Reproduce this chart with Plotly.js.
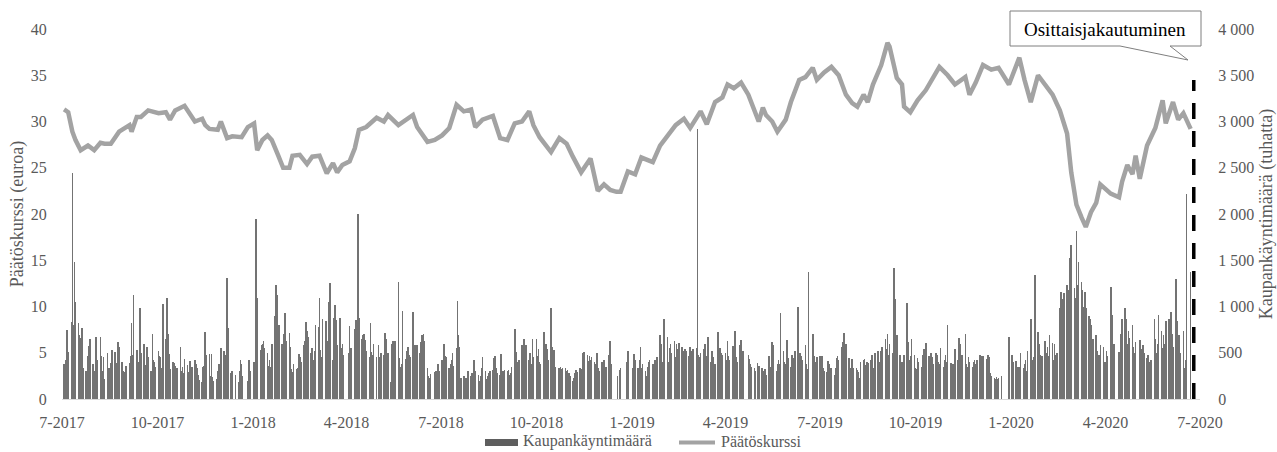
<!DOCTYPE html>
<html>
<head>
<meta charset="utf-8">
<script src="https://cdn.plot.ly/plotly-3.0.1.min.js"></script>
<style>html,body{margin:0;padding:0;background:#fff;}#chart{width:1277px;height:452px;}</style>
</head>
<body>
<div id="chart"></div>
<script>
// ---------- DATA ----------
const priceDates = [
"2017-07-03","2017-07-07","2017-07-11","2017-07-14","2017-07-19","2017-07-26","2017-08-01","2017-08-07","2017-08-11","2017-08-17",
"2017-08-25","2017-09-04","2017-09-06","2017-09-11","2017-09-15","2017-09-22","2017-10-02","2017-10-09","2017-10-13","2017-10-18",
"2017-10-27","2017-11-06","2017-11-13","2017-11-16","2017-11-20","2017-11-28","2017-12-01","2017-12-07","2017-12-12","2017-12-21",
"2017-12-27","2018-01-02","2018-01-05","2018-01-10","2018-01-15","2018-01-19","2018-01-25","2018-01-30","2018-02-05","2018-02-08",
"2018-02-15","2018-02-22","2018-02-27","2018-03-06","2018-03-13","2018-03-19","2018-03-23","2018-03-28","2018-04-04","2018-04-09",
"2018-04-13","2018-04-20","2018-04-30","2018-05-07","2018-05-11","2018-05-21","2018-06-04","2018-06-08","2018-06-18","2018-06-25",
"2018-07-02","2018-07-09","2018-07-16","2018-07-23","2018-07-30","2018-08-03","2018-08-10","2018-08-20","2018-08-27","2018-09-03",
"2018-09-10","2018-09-17","2018-09-24","2018-09-28","2018-10-04","2018-10-15","2018-10-23","2018-10-30","2018-11-05","2018-11-13",
"2018-11-22","2018-11-29","2018-12-05","2018-12-11","2018-12-17","2018-12-21","2018-12-28","2019-01-04","2019-01-10","2019-01-21",
"2019-01-28","2019-02-04","2019-02-12","2019-02-20","2019-02-26","2019-03-08","2019-03-14","2019-03-22","2019-03-29","2019-04-03",
"2019-04-09","2019-04-16","2019-04-23","2019-05-03","2019-05-07","2019-05-10","2019-05-16","2019-05-21","2019-05-29","2019-06-03",
"2019-06-11","2019-06-17","2019-06-24","2019-06-28","2019-07-05","2019-07-12","2019-07-19","2019-07-26","2019-08-01","2019-08-06",
"2019-08-12","2019-08-16","2019-08-21","2019-08-29","2019-09-04","2019-09-06","2019-09-13","2019-09-18","2019-09-20","2019-09-26",
"2019-10-03","2019-10-11","2019-10-18","2019-10-24","2019-11-01","2019-11-08","2019-11-18","2019-11-22","2019-11-28","2019-12-05",
"2019-12-13","2019-12-20","2019-12-30","2020-01-03","2020-01-09","2020-01-14","2020-01-20","2020-01-27","2020-02-03","2020-02-10",
"2020-02-17","2020-02-21","2020-02-24","2020-02-28","2020-03-04","2020-03-09","2020-03-13","2020-03-18","2020-03-23","2020-03-27",
"2020-04-06","2020-04-14","2020-04-17","2020-04-22","2020-04-27","2020-04-30","2020-05-04","2020-05-11","2020-05-19","2020-05-26",
"2020-05-29","2020-06-05","2020-06-10","2020-06-15","2020-06-22"
];
const priceValues = [
31.3,31.0,28.9,28.0,26.9,27.4,26.9,27.7,27.6,27.6,
28.9,29.6,28.9,30.5,30.5,31.2,30.9,31.0,30.2,31.2,
31.7,30.0,30.3,29.6,29.2,29.1,30.0,28.2,28.4,28.3,
29.4,29.8,26.9,28.0,28.5,28.0,26.4,25.0,25.0,26.3,
26.4,25.4,26.2,26.3,24.4,25.5,24.5,25.3,25.7,27.1,
29.1,29.4,30.4,30.0,30.7,29.6,30.7,29.4,27.8,28.0,
28.5,29.3,31.8,31.1,31.3,29.4,30.2,30.6,28.2,28.0,
29.8,30.0,31.1,29.6,28.3,26.7,28.2,27.6,26.2,24.5,
26.0,22.5,23.2,22.6,22.4,22.4,24.6,24.3,26.1,25.6,
27.4,28.4,29.6,30.3,29.3,31.1,29.7,32.1,32.6,34.0,
33.6,34.2,32.9,30.0,31.5,30.7,30.0,28.9,30.2,32.1,
34.5,34.8,35.8,34.5,35.3,35.9,35.0,32.9,32.0,31.6,
32.9,32.1,34.0,36.1,38.5,38.1,34.7,34.0,31.6,31.0,
32.3,33.4,34.7,35.9,35.0,34.0,34.8,32.9,34.2,36.1,
35.6,35.8,34.0,35.3,36.9,34.5,32.1,35.0,34.0,32.9,
31.2,29.6,28.7,24.5,21.0,19.6,18.6,20.2,21.2,23.2,
22.2,21.8,23.5,25.3,24.3,26.3,23.8,27.4,29.3,32.3,
29.8,32.1,30.2,30.9,29.2
];

// trading volume (thousands), one list per month, in trading-day order
const vol2017 = [
 [380,340,420,745,510,830,2440,800,1480,1050,820,690,660,770,330,300,220,460,570,650,380],
 [300,270,670,420,670,460,300,450,220,500,330,290,390,530,510,390,300,620,560,400,300,290,360],
 [360,390,470,820,480,1120,530,400,390,980,500,600,370,250,560,450,300,700,420,400,350],
 [520,460,450,330,1030,650,1090,700,490,320,400,390,360,290,330,560,300,350,280,430,370,290],
 [410,300,350,420,380,330,260,210,180,350,360,720,480,490,250,490,240,200,220,300,380,250],
 [550,520,480,1310,770,280,300,0,0,260,180,300,420,380,250,200,420,300]
];
const vol2018 = [
 [400,320,1950,1090,530,580,600,630,550,500,360,420,350,600,900,1230,1120,750,800,600,500,700],
 [930,630,710,560,320,290,380,320,330,490,450,400,580,630,830,730,670,500,550,420],
 [520,800,780,1090,530,450,860,840,440,630,1050,1250,420,880,1020,850,580,880,550,600,480],
 [500,790,550,550,760,850,550,2000,880,650,690,700,640,520,450,820,510,480,600,450],
 [580,450,500,480,710,650,450,500,180,600,630,520,630,1270,440,350,380,950,430,520,560,480],
 [450,940,540,580,450,580,500,620,690,700,630,340,250,230,270,290,300,260,380,300],
 [420,380,600,470,450,340,380,420,500,360,550,1060,690,560,230,250,200,230,220,300,250,280],
 [250,420,300,260,200,250,330,450,300,220,250,280,300,310,440,460,330,280,260,490,290,300,310],
 [300,310,260,280,350,760,510,400,300,420,580,340,650,370,580,420,500,380,650,450],
 [650,470,540,400,380,720,470,590,540,420,980,560,420,530,350,340,330,350,320,340,330,300,310],
 [280,250,200,230,280,310,290,330,320,300,500,510,480,410,460,420,450,400,380,500,330,300],
 [400,310,420,350,480,630,380,0,0,0,250,0,310,340,400,520]
];
const vol2019 = [
 [330,490,420,330,420,560,330,380,300,250,350,400,420,380,350,420,380,450,690,600,400,350],
 [870,670,400,550,600,500,630,450,600,540,610,560,520,470,540,520,470,560,520,470],
 [540,550,2920,480,450,500,540,600,400,460,670,400,520,450,300,380,720,460,550,500,480],
 [500,420,630,460,420,570,500,730,450,400,580,640,400,520,480,430,380,350,330,300],
 [390,360,330,300,280,320,260,460,300,350,620,580,300,380,420,380,930,520,400,380,640,440],
 [350,480,300,440,520,1000,300,500,470,420,580,380,320,1370,700,470,300,400,450],
 [470,440,460,330,300,290,410,380,340,330,260,340,440,470,420,560,620,710,520,590,440,330,300],
 [430,330,340,310,290,230,400,420,430,370,400,390,420,480,330,310,500,520,400,350,520,560],
 [650,540,700,480,600,500,1420,1080,520,690,480,350,400,300,480,1040,620,420,460,650,480],
 [330,320,440,400,350,480,540,520,610,460,420,500,450,380,500,480,400,380,550,350,420,480,400],
 [800,390,300,380,340,540,420,660,600,250,480,700,380,350,450,400,350,400,420,380,420],
 [480,460,440,470,430,480,450,280,250,230,220,240,220,230,250,0,670]
];
const vol2020 = [
 [480,400,410,300,350,350,500,330,380,420,300,520,870,420,380,450,1340,720,600,480,420,460],
 [630,500,560,470,690,610,420,600,480,500,980,1160,1080,1000,1150,1230,960,1180,1520,1660],
 [1200,1090,1820,1230,1480,1270,1180,1000,1160,980,900,870,800,580,650,690,520,440,480,580,560,400],
 [400,520,460,1210,910,580,600,510,440,700,870,980,870,600,730,660,800,560,500,620],
 [640,540,510,580,500,440,480,400,380,420,870,650,500,600,910,730,550,690,600,840],
 [870,600,940,700,560,1300,840,580,690,500,730,330,420,2220,1370]
];

const exchangeHolidays = [
"2017-12-06","2017-12-25","2017-12-26","2018-01-01","2018-03-30","2018-04-02","2018-05-01","2018-06-22",
"2018-12-06","2018-12-24","2018-12-25","2018-12-26","2018-12-31","2019-01-01","2019-04-19","2019-04-22",
"2019-05-01","2019-06-21","2019-12-06","2019-12-24","2019-12-25","2019-12-26","2019-12-31","2020-01-01",
"2020-04-10","2020-04-13","2020-05-01","2020-06-19"
];
const firstTradingDay = "2017-07-03";
const lastTradingDay = "2020-06-22";

const xTickVals = ["2017-07-01","2017-10-01","2018-01-01","2018-04-01","2018-07-01","2018-10-01","2019-01-01","2019-04-01","2019-07-01","2019-10-01","2020-01-01","2020-04-01","2020-07-01"];
const xTickText = ["7-2017","10-2017","1-2018","4-2018","7-2018","10-2018","1-2019","4-2019","7-2019","10-2019","1-2020","4-2020","7-2020"];
const priceTickVals = [0,5,10,15,20,25,30,35,40];
const priceTickText = ["0","5","10","15","20","25","30","35","40"];
const volTickVals = [0,500,1000,1500,2000,2500,3000,3500,4000];
const volTickText = ["0","500","1 000","1 500","2 000","2 500","3 000","3 500","4 000"];

const demergerDate = "2020-06-25";
const demergerLineTop = 3450;
const calloutText = "Osittaisjakautuminen";
const seriesNames = ["Kaupankäyntimäärä", "Päätöskurssi"];

// ---------- BUILD DAILY BARS ----------
const volumeByMonth = [].concat(vol2017, vol2018, vol2019, vol2020);
const holidaySet = new Set(exchangeHolidays);
const barDates = [], barValues = [];
(function () {
  const p = s => s.split("-").map(Number);
  const [y0, m0, d0] = p(firstTradingDay);
  const [y1, m1, d1] = p(lastTradingDay);
  let t = Date.UTC(y0, m0 - 1, d0);
  const tEnd = Date.UTC(y1, m1 - 1, d1);
  let curKey = null, idx = 0;
  while (t <= tEnd) {
    const dt = new Date(t);
    const iso = dt.toISOString().slice(0, 10);
    const wd = dt.getUTCDay();
    if (wd !== 0 && wd !== 6 && !holidaySet.has(iso)) {
      const key = iso.slice(0, 7);
      if (key !== curKey) { curKey = key; idx = 0; }
      const mi = (dt.getUTCFullYear() - 2017) * 12 + dt.getUTCMonth() - 6;
      const arr = volumeByMonth[mi];
      if (arr && idx < arr.length) { barDates.push(iso); barValues.push(arr[idx]); }
      idx++;
    }
    t += 86400000;
  }
})();

// ---------- PLOT ----------
const FONT = "'Liberation Serif', 'Times New Roman', serif";
const GREY_TXT = "#595959";
const px2x = px => (px - 62) / 1138;
const px2y = py => (399 - py) / 370;

const traces = [
  {
    type: "bar", name: seriesNames[0], x: barDates, y: barValues,
    xaxis: "x", yaxis: "y",
    marker: { color: "#737373", line: { width: 0 } },
    width: barDates.map(() => 0.6 * 86400000),
    showlegend: false, hoverinfo: "skip"
  },
  {
    type: "scatter", mode: "lines", name: seriesNames[1], x: priceDates, y: priceValues,
    xaxis: "x", yaxis: "y2",
    line: { color: "#a3a3a3", width: 4.5 },
    showlegend: false, hoverinfo: "skip"
  }
];

const bx0 = px2x(1010), bx1 = px2x(1201), by0 = px2y(46), by1 = px2y(11);
const wA = px2x(1120), wB = px2x(1170), tipX = px2x(1188), tipY = px2y(60);
const calloutPath = `M ${bx0},${by0} L ${bx0},${by1} L ${bx1},${by1} L ${bx1},${by0} L ${wB},${by0} L ${tipX},${tipY} L ${wA},${by0} Z`;

const layout = {
  width: 1277, height: 452,
  margin: { l: 62, r: 77, t: 29, b: 53, pad: 0 },
  paper_bgcolor: "#ffffff", plot_bgcolor: "#ffffff",
  font: { family: FONT, color: GREY_TXT, size: 16 },
  showlegend: false, hovermode: false, bargap: 0,
  xaxis: {
    type: "date", range: ["2017-07-01", "2020-07-01"],
    tickmode: "array", tickvals: xTickVals, ticktext: xTickText,
    ticks: "outside", ticklen: 9, tickcolor: "rgba(0,0,0,0)",
    tickfont: { family: FONT, size: 16, color: GREY_TXT },
    showgrid: false, zeroline: false, showline: true, linecolor: "#d9d9d9", linewidth: 1,
    fixedrange: true
  },
  yaxis: {
    side: "right", range: [0, 4000],
    tickmode: "array", tickvals: volTickVals, ticktext: volTickText,
    ticks: "outside", ticklen: 14, tickcolor: "rgba(0,0,0,0)",
    tickfont: { family: FONT, size: 16, color: GREY_TXT },
    showgrid: false, zeroline: false, showline: false,
    title: { text: "Kaupankäyntimäärä (tuhatta)", font: { family: FONT, size: 18, color: GREY_TXT }, standoff: 14 },
    fixedrange: true
  },
  yaxis2: {
    side: "left", overlaying: "y", range: [0, 40],
    tickmode: "array", tickvals: priceTickVals, ticktext: priceTickText,
    ticks: "outside", ticklen: 11, tickcolor: "rgba(0,0,0,0)",
    tickfont: { family: FONT, size: 16, color: GREY_TXT },
    showgrid: false, zeroline: false, showline: false,
    title: { text: "Päätöskurssi (euroa)", font: { family: FONT, size: 18, color: GREY_TXT }, standoff: 2 },
    fixedrange: true
  },
  shapes: [
    { type: "line", xref: "x", yref: "y", x0: demergerDate, x1: demergerDate, y0: 0, y1: demergerLineTop,
      line: { color: "#000000", width: 3.5, dash: "16px,12px" } },
    { type: "path", xref: "paper", yref: "paper", path: calloutPath,
      fillcolor: "#ffffff", line: { color: "#7f7f7f", width: 1 } },
    { type: "rect", xref: "paper", yref: "paper", x0: px2x(485), x1: px2x(518), y0: px2y(446), y1: px2y(439),
      fillcolor: "#5e5e5e", line: { width: 0 } },
    { type: "line", xref: "paper", yref: "paper", x0: px2x(679), x1: px2x(715), y0: px2y(442.5), y1: px2y(442.5),
      line: { color: "#a3a3a3", width: 4 } }
  ],
  annotations: [
    { xref: "paper", yref: "paper", x: px2x(1105), y: px2y(29), text: calloutText, showarrow: false,
      xanchor: "center", yanchor: "middle", font: { family: FONT, size: 19, color: "#000000" } },
    { xref: "paper", yref: "paper", x: px2x(521), y: px2y(441), text: seriesNames[0], showarrow: false,
      xanchor: "left", yanchor: "middle", font: { family: FONT, size: 16, color: GREY_TXT } },
    { xref: "paper", yref: "paper", x: px2x(719), y: px2y(441), text: seriesNames[1], showarrow: false,
      xanchor: "left", yanchor: "middle", font: { family: FONT, size: 16, color: GREY_TXT } }
  ]
};

Plotly.newPlot("chart", traces, layout, { displayModeBar: false, responsive: false });
</script>
</body>
</html>
